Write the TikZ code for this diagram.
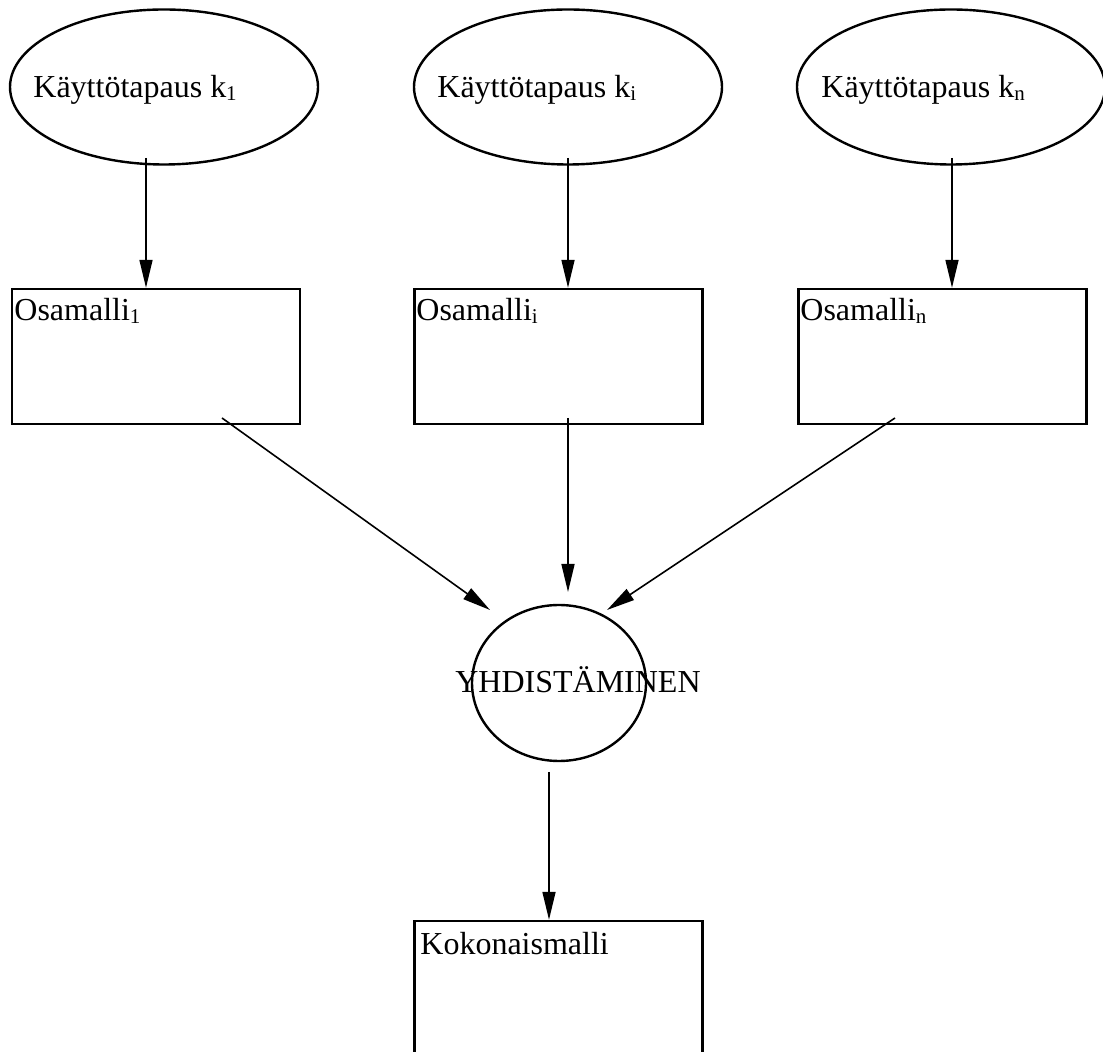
\documentclass[tikz,border=0pt]{standalone}
\usepackage{fontspec}
\setmainfont{Liberation Serif}
\usetikzlibrary{shapes.geometric,arrows.meta}
\newcommand\mysubs[1]{\raisebox{-1.5pt}{\fontsize{10.5pt}{12pt}\selectfont #1}}
\begin{document}
\begin{tikzpicture}[x=0.5pt,y=-0.5pt,
  shapeline/.style={draw,line width=1.2pt,inner sep=0pt},
  usecase/.style={shapeline,ellipse,minimum width=154pt,minimum height=77.5pt},
  modelbox/.style={shapeline,rectangle,minimum width=144pt,minimum height=67.5pt},
  lbl/.style={anchor=base west,inner sep=0pt,font=\fontsize{16pt}{19pt}\selectfont},
  arr/.style={-{Triangle[length=14pt,width=6.5pt]},line width=0.8pt}]
\useasboundingbox (0,0) rectangle (1103,1052);
\begin{scope}
\clip (0,0) rectangle (1103,1052);
% use case ellipses
\node[usecase] (e1) at (164,87) {};
\node[usecase] (e2) at (568,87) {};
\node[usecase] (e3) at (951,87) {};
\node[lbl] (t1) at (33,98) {Käyttötapaus k\mysubs{1}};
\node[lbl] (t2) at (437,98) {Käyttötapaus k\mysubs{i}};
\node[lbl] (t3) at (821,98) {Käyttötapaus k\mysubs{n}};
% partial models
\node[modelbox] (b1) at (156,356.5) {};
\node[modelbox] (b2) at (558.5,356.5) {};
\node[modelbox] (b3) at (942.5,356.5) {};
\node[lbl] (o1) at (14,321) {Osamalli\mysubs{1}};
\node[lbl] (o2) at (416,321) {Osamalli\mysubs{i}};
\node[lbl] (o3) at (800,321) {Osamalli\mysubs{n}};
% merge
\node[shapeline,ellipse,minimum width=87pt,minimum height=78pt] (yh) at (559,683) {};
\node[lbl,anchor=base] (yt) at (578,693) {YHDISTÄMINEN};
% total model
\node[modelbox,minimum height=79.5pt] (b4) at (558.5,1000.5) {};
\node[lbl] (kt) at (420,954) {Kokonaismalli};
% arrows
\coordinate (s1) at (146,158);
\coordinate (s2) at (568,158);
\coordinate (s3) at (952,158);
\draw[arr] (s1) -- (s1 |- b1.north);
\draw[arr] (s2) -- (s2 |- b2.north);
\draw[arr] (s3) -- (s3 |- b3.north);
\coordinate (d1s) at (222,418);
\coordinate (d1e) at (490,610);
\coordinate (d2s) at (568,418);
\coordinate (d2e) at (568,592);
\coordinate (d3s) at (895,418);
\coordinate (d3e) at (607,610);
\draw[arr] (d1s) -- (d1e);
\draw[arr] (d2s) -- (d2e);
\draw[arr] (d3s) -- (d3e);
\coordinate (fs) at (549,772);
\draw[arr] (fs) -- (fs |- b4.north);
\end{scope}
\end{tikzpicture}
\end{document}
